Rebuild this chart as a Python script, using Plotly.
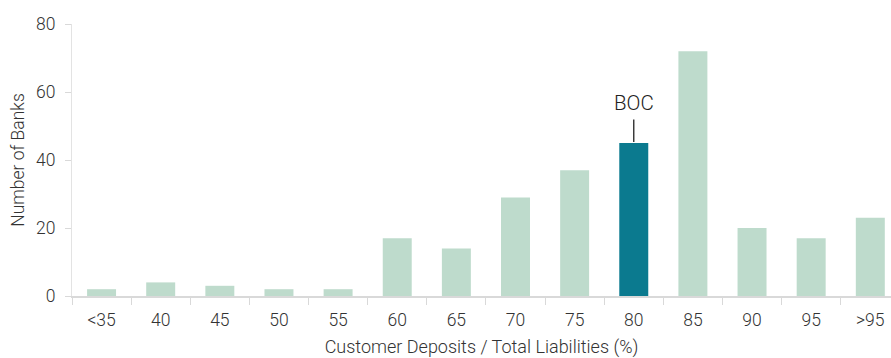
import plotly.graph_objects as go

# Distribution of banks by customer deposits / total liabilities
categories = ["<35", "40", "45", "50", "55", "60", "65", "70", "75", "80", "85", "90", "95", ">95"]
bank_counts = [2, 4, 3, 2, 2, 17, 14, 29, 37, 45, 72, 20, 17, 23]
highlight_category = "80"
highlight_label = "BOC"

light_green = "#BEDBCC"
teal = "#0B7A8F"
colors = [teal if c == highlight_category else light_green for c in categories]

fig = go.Figure(
    go.Bar(
        x=categories,
        y=bank_counts,
        marker=dict(color=colors, line=dict(width=0)),
        width=0.49,
        hoverinfo="x+y",
    )
)

# Category positions are indices on a category axis
hi_idx = categories.index(highlight_category)
fig.add_annotation(
    x=hi_idx,
    y=bank_counts[hi_idx],
    xref="x",
    yref="y",
    text=highlight_label,
    showarrow=True,
    arrowhead=0,
    arrowwidth=1.3,
    arrowcolor="#222222",
    ax=0,
    ay=-40,
    standoff=1,
    borderpad=4,
    font=dict(size=20.5, color="#222222"),
)

font_family = "Roboto, 'Noto Sans', Arial, sans-serif"
fig.update_layout(
    width=891,
    height=358,
    margin=dict(l=72, r=0, t=24, b=62),
    plot_bgcolor="white",
    paper_bgcolor="white",
    font=dict(family=font_family, color="#333333", weight=300),
    showlegend=False,
    xaxis=dict(
        type="category",
        # last slot runs slightly past the right edge of the frame
        range=[-0.5, len(categories) - 0.65],
        showline=True,
        linecolor="#D9D9D9",
        linewidth=1.5,
        ticks="outside",
        tickson="boundaries",
        ticklen=7,
        tickcolor="#D9D9D9",
        tickangle=0,
        ticklabelstandoff=7,
        tickfont=dict(size=17.5, color="#333333"),
        title=dict(text="Customer Deposits / Total Liabilities (%)", font=dict(size=18, color="#333333"), standoff=17),
        showgrid=False,
    ),
    yaxis=dict(
        range=[0, 80],
        dtick=20,
        showline=True,
        linecolor="#E3E3E3",
        linewidth=1,
        ticks="outside",
        ticklen=6,
        tickcolor="#D9D9D9",
        ticklabelstandoff=6,
        tickfont=dict(size=17.5, color="#333333"),
        title=dict(text="Number of Banks", font=dict(size=17.5, color="#333333"), standoff=6),
        showgrid=False,
        zeroline=False,
    ),
)

fig.write_html("out.html")
